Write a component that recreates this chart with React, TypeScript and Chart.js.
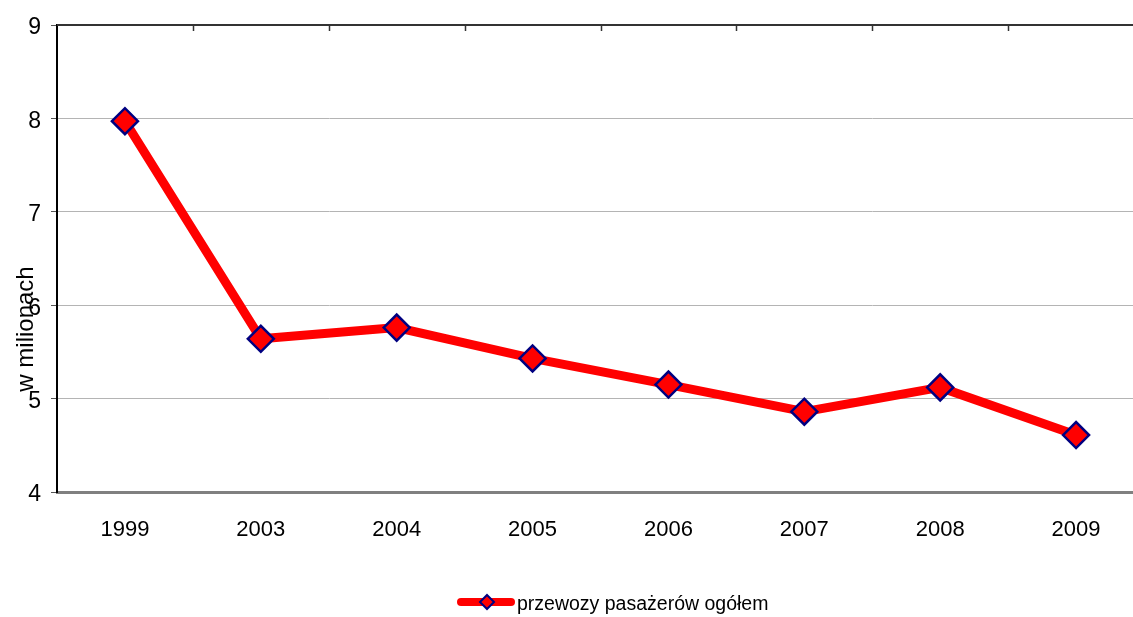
import React, { useEffect, useRef } from "react";
import { Chart, registerables } from "chart.js";

Chart.register(...registerables);

const categories = ["1999", "2003", "2004", "2005", "2006", "2007", "2008", "2009"];
const values = [7.97, 5.64, 5.76, 5.43, 5.15, 4.86, 5.12, 4.61];
const seriesLabel = "przewozy pasażerów ogółem";
const yTitle = "w milionach";
const yMin = 4;
const yMax = 9;

const FONT = "'Liberation Sans', Arial, sans-serif";

const decorPlugin = {
  id: "decor",
  afterDraw(chart: any) {
    const { ctx, chartArea, scales } = chart;
    const xs = scales.x;
    ctx.save();
    // top border
    ctx.strokeStyle = "#333333";
    ctx.lineWidth = 2;
    ctx.beginPath();
    ctx.moveTo(chartArea.left, chartArea.top);
    ctx.lineTo(chartArea.right, chartArea.top);
    ctx.stroke();
    // top tick marks at category boundaries
    ctx.lineWidth = 1.5;
    for (let i = 1; i < categories.length; i++) {
      const x = Math.round((xs.getPixelForTick(i - 1) + xs.getPixelForTick(i)) / 2) + 0.5;
      ctx.beginPath();
      ctx.moveTo(x, chartArea.top);
      ctx.lineTo(x, chartArea.top + 6);
      ctx.stroke();
    }
    // y axis title
    ctx.fillStyle = "#000";
    ctx.font = `24px ${FONT}`;
    ctx.textAlign = "center";
    ctx.textBaseline = "alphabetic";
    ctx.translate(33, 329);
    ctx.rotate(-Math.PI / 2);
    ctx.fillText(yTitle, 0, 0);
    ctx.restore();

    // legend
    ctx.save();
    const ly = 602;
    ctx.strokeStyle = "#ff0000";
    ctx.lineWidth = 8;
    ctx.lineCap = "round";
    ctx.beginPath();
    ctx.moveTo(461, ly);
    ctx.lineTo(511, ly);
    ctx.stroke();
    const cx = 487;
    const r = 7;
    ctx.beginPath();
    ctx.moveTo(cx, ly - r);
    ctx.lineTo(cx + r, ly);
    ctx.lineTo(cx, ly + r);
    ctx.lineTo(cx - r, ly);
    ctx.closePath();
    ctx.fillStyle = "#ff0000";
    ctx.fill();
    ctx.strokeStyle = "#000080";
    ctx.lineWidth = 2;
    ctx.lineCap = "butt";
    ctx.stroke();
    ctx.fillStyle = "#000";
    ctx.font = `19.5px ${FONT}`;
    ctx.textAlign = "left";
    ctx.textBaseline = "middle";
    ctx.fillText(seriesLabel, 517, 605);
    ctx.restore();
  },
};

export default function App() {
  const ref = useRef<HTMLCanvasElement>(null);
  useEffect(() => {
    const canvas = ref.current!;
    const chart = new Chart(canvas, {
      type: "line",
      data: {
        labels: categories,
        datasets: [
          {
            label: seriesLabel,
            data: values,
            borderColor: "#ff0000",
            borderWidth: 9,
            backgroundColor: "#ff0000",
            pointStyle: "rectRot",
            pointRadius: 13,
            pointHoverRadius: 13,
            pointBackgroundColor: "#ff0000",
            pointBorderColor: "#000080",
            pointBorderWidth: 2.5,
            tension: 0,
            clip: false as any,
          },
        ],
      },
      options: {
        responsive: false,
        animation: false,
        devicePixelRatio: 1,
        layout: { autoPadding: false, padding: { top: 25, right: 2, left: 0, bottom: 0 } },
        plugins: {
          legend: { display: false },
          tooltip: { enabled: false },
        },
        scales: {
          x: {
            offset: true,
            grid: { display: false, drawTicks: false },
            border: { display: true, color: "#808080", width: 3 },
            ticks: {
              color: "#000",
              font: { family: FONT, size: 22 },
              padding: 25,
              maxRotation: 0,
            },
            afterFit(scale: any) {
              scale.height = 125;
              scale.paddingLeft = 0;
              scale.paddingRight = 0;
            },
          },
          y: {
            min: yMin,
            max: yMax,
            grid: {
              color: "#b4b4b4",
              lineWidth: 1,
              tickLength: 6,
              tickColor: "#555",
              drawTicks: true,
            },
            border: { display: true, color: "#000", width: 2 },
            ticks: {
              stepSize: 1,
              color: "#000",
              font: { family: FONT, size: 23 },
              padding: 10,
              labelOffset: 3,
            },
            afterFit(scale: any) {
              scale.width = 57;
            },
          },
        },
      },
      plugins: [decorPlugin],
    });
    return () => chart.destroy();
  }, []);
  return (
    <div
      style={{
        position: "fixed",
        left: 0,
        top: 0,
        width: 1133,
        height: 617,
        overflow: "hidden",
        background: "#fff",
      }}
    >
      <div style={{ width: 1146, height: 617 }}>
        <canvas ref={ref} width={1146} height={617} style={{ width: 1146, height: 617, display: "block" }} />
      </div>
    </div>
  );
}
